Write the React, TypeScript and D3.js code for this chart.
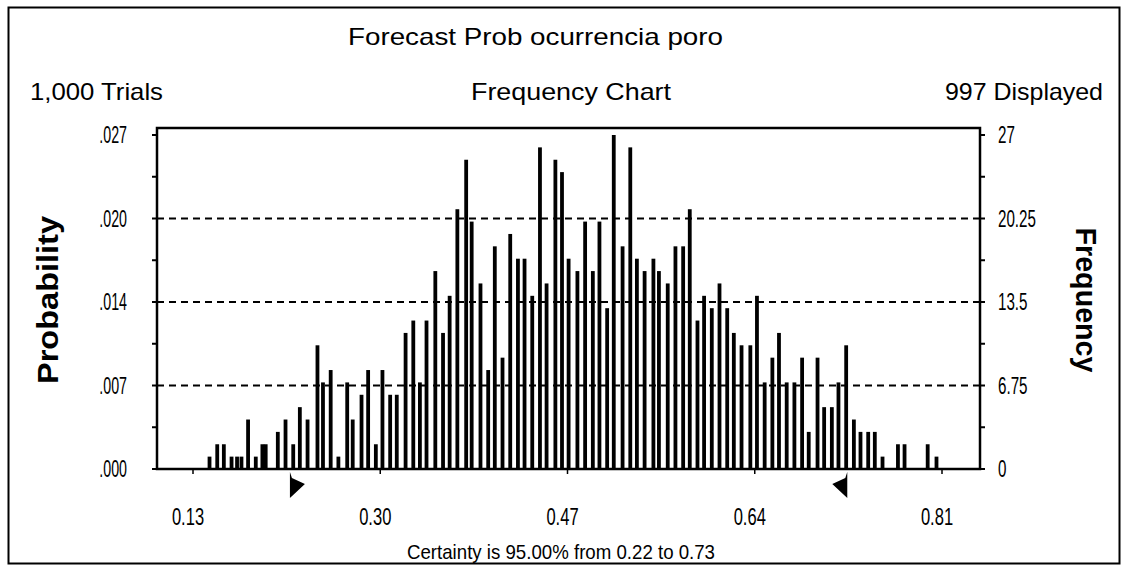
import React from "react";
import * as d3 from "d3";

const binCenters = [
  0.145, 0.152, 0.158, 0.165, 0.17, 0.174, 0.18, 0.187, 0.193, 0.196, 0.207, 0.214, 0.221, 0.227,
  0.234, 0.243, 0.248, 0.255, 0.262, 0.27, 0.275, 0.283, 0.289, 0.296, 0.302, 0.309, 0.315,
  0.323, 0.33, 0.336, 0.342, 0.35, 0.357, 0.363, 0.37, 0.378, 0.383,
  0.391, 0.398, 0.404, 0.411, 0.418, 0.425, 0.431, 0.438, 0.445, 0.451, 0.459, 0.465, 0.471, 0.479,
  0.486, 0.493, 0.499, 0.506, 0.512, 0.52, 0.527, 0.533, 0.54, 0.548, 0.553, 0.561, 0.568, 0.575,
  0.581, 0.588, 0.594, 0.601, 0.608, 0.615, 0.621, 0.628, 0.636, 0.642, 0.649, 0.656, 0.662,
  0.669, 0.676, 0.683, 0.689, 0.697, 0.703, 0.71, 0.716, 0.723, 0.73, 0.736, 0.743, 0.749, 0.756,
  0.77, 0.776, 0.797, 0.805,
];
const frequencies = [
  1, 2, 2, 1, 1, 1, 4, 1, 2, 2, 3, 4, 2, 5,
  4, 10, 7, 8, 1, 7, 4, 6, 8, 2, 8, 6, 6,
  11, 12, 7, 12, 16, 11, 14, 21, 25, 20,
  15, 8, 18, 9, 19, 17, 17, 14, 26, 15, 25, 24, 17, 16,
  20, 16, 20, 13, 27, 18, 26, 17, 16, 17, 16, 15, 18, 18,
  21, 12, 14, 13, 15, 13, 11, 10, 10, 14, 7, 9, 11,
  7, 7, 9, 3, 9, 5, 5, 7, 10, 4, 3, 3, 3, 1,
  2, 2, 2, 1,
];
const xTickValues = [0.13, 0.3, 0.47, 0.64, 0.81];
const xTickLabels = ["0.13", "0.30", "0.47", "0.64", "0.81"];
const freqTickValues = [0, 6.75, 13.5, 20.25, 27];
const freqTickLabels = ["0", "6.75", "13.5", "20.25", "27"];
const probTickLabels = [".000", ".007", ".014", ".020", ".027"];
const certaintyMarkers = [0.218, 0.724];

const W = 1127;
const H = 570;
const plotL = 157;
const plotR = 980;
const plotT = 128;
const plotB = 469;

const font = "'Liberation Sans', Arial, sans-serif";

function Squeezed(props: {
  x: number;
  y: number;
  anchor?: "start" | "middle" | "end";
  size: number;
  sx: number;
  children: React.ReactNode;
}) {
  const { x, y, anchor = "start", size, sx, children } = props;
  return (
    <text
      transform={`translate(${x},${y}) scale(${sx},1)`}
      textAnchor={anchor}
      fontSize={size}
      fontFamily={font}
    >
      {children}
    </text>
  );
}

export default function App() {
  const x = d3.scaleLinear().domain([0.13, 0.81]).range([193, 942]);
  const y = d3.scaleLinear().domain([0, 27]).range([plotB, 135]);
  const minorTicks = d3.range(0, 27.01, 3.375);
  const bw = 3.8;

  return (
    <svg
      width={W}
      height={H}
      style={{ position: "absolute", left: 0, top: 0, background: "#fff" }}
      fontFamily={font}
    >
      <rect x={0} y={0} width={W} height={H} fill="#fff" />
      {/* outer frame */}
      <rect x={8.5} y={7.5} width={1111} height={556} fill="none" stroke="#000" strokeWidth={2} />

      {/* header texts */}
      <text x={348} y={45} fontSize={24} textLength={375} lengthAdjust="spacingAndGlyphs">
        Forecast  Prob ocurrencia poro
      </text>
      <text x={30} y={100} fontSize={24} textLength={133} lengthAdjust="spacingAndGlyphs">
        1,000 Trials
      </text>
      <text x={471} y={100} fontSize={24} textLength={200} lengthAdjust="spacingAndGlyphs">
        Frequency Chart
      </text>
      <text x={945} y={100} fontSize={24} textLength={158} lengthAdjust="spacingAndGlyphs">
        997 Displayed
      </text>

      {/* gridlines */}
      {freqTickValues.slice(1, 4).map((v) => (
        <line
          key={"g" + v}
          x1={plotL}
          x2={plotR}
          y1={y(v)}
          y2={y(v)}
          stroke="#000"
          strokeWidth={2}
          strokeDasharray="7 5"
        />
      ))}

      {/* bars */}
      {binCenters.map((c, i) => (
        <rect
          key={"b" + i}
          x={x(c) - bw / 2}
          y={y(frequencies[i])}
          width={bw}
          height={plotB - y(frequencies[i])}
          fill="#000"
        />
      ))}

      {/* plot frame */}
      <rect
        x={plotL}
        y={plotT}
        width={plotR - plotL}
        height={plotB - plotT}
        fill="none"
        stroke="#000"
        strokeWidth={2.5}
      />

      {/* minor ticks left / right */}
      {minorTicks.map((v) => (
        <g key={"t" + v}>
          <line x1={plotL - 5} x2={plotL} y1={y(v)} y2={y(v)} stroke="#000" strokeWidth={2} />
          <line x1={plotR} x2={plotR + 5} y1={y(v)} y2={y(v)} stroke="#000" strokeWidth={2} />
        </g>
      ))}

      {/* left tick labels */}
      {freqTickValues.map((v, i) => (
        <Squeezed key={"pl" + i} x={127} y={y(v) + 8} anchor="end" size={23} sx={0.62}>
          {probTickLabels[i]}
        </Squeezed>
      ))}
      {/* right tick labels */}
      {freqTickValues.map((v, i) => (
        <Squeezed key={"fl" + i} x={998} y={y(v) + 8} anchor="start" size={23} sx={0.66}>
          {freqTickLabels[i]}
        </Squeezed>
      ))}

      {/* x ticks */}
      {xTickValues.map((v, i) => (
        <g key={"x" + i}>
          <line x1={x(v)} x2={x(v)} y1={plotB} y2={plotB + 5} stroke="#000" strokeWidth={1.5} />
          <Squeezed x={x(v) - 5} y={525} anchor="middle" size={23} sx={0.72}>
            {xTickLabels[i]}
          </Squeezed>
        </g>
      ))}

      {/* certainty markers */}
      {certaintyMarkers.map((m, i) => {
        const px = x(m);
        const dir = i === 0 ? 1 : -1;
        const pts = [
          [px, 472],
          [px, 498],
          [px + dir * 15, 484],
          [px + dir * 2, 478],
        ];
        return (
          <polygon key={"m" + i} points={pts.map((p) => p.join(",")).join(" ")} fill="#000" />
        );
      })}

      <text x={407} y={559} fontSize={21} textLength={308} lengthAdjust="spacingAndGlyphs">
        Certainty is 95.00% from 0.22 to 0.73
      </text>

      {/* axis titles */}
      <text
        transform="translate(58,300) rotate(-90)"
        textAnchor="middle"
        fontSize={29}
        fontWeight="bold"
        textLength={168}
        lengthAdjust="spacingAndGlyphs"
      >
        Probability
      </text>
      <text
        transform="translate(1076,300) rotate(90)"
        textAnchor="middle"
        fontSize={29}
        fontWeight="bold"
        textLength={145}
        lengthAdjust="spacingAndGlyphs"
      >
        Frequency
      </text>
    </svg>
  );
}
